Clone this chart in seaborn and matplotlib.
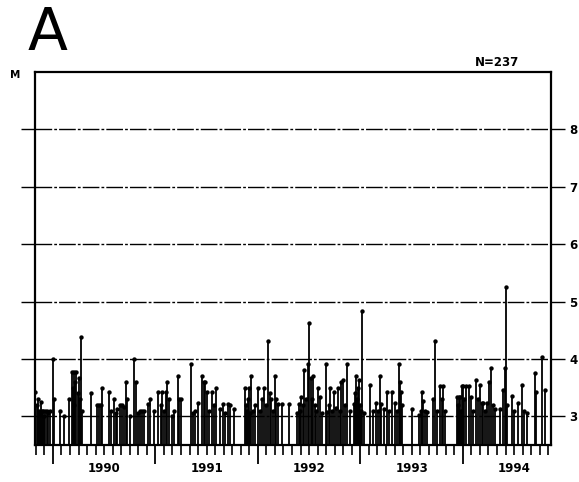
import numpy as np
import pandas as pd
import seaborn as sns
from matplotlib import pyplot as plt

# events: decimal year and magnitude
event_year = [
    1989.83, 1989.84, 1989.85, 1989.86, 1989.87, 1989.88, 1989.89, 1989.90,
    1989.91, 1989.92, 1989.94, 1989.95, 1989.97,
    1990.00, 1990.01, 1990.07, 1990.11, 1990.16, 1990.19, 1990.20, 1990.205,
    1990.21, 1990.22, 1990.23, 1990.24, 1990.25, 1990.26, 1990.27, 1990.28,
    1990.37, 1990.43, 1990.45, 1990.47, 1990.48, 1990.55, 1990.57, 1990.60,
    1990.62, 1990.63, 1990.65, 1990.67, 1990.69, 1990.71, 1990.72, 1990.75,
    1990.79, 1990.81, 1990.83, 1990.85, 1990.87, 1990.89, 1990.93, 1990.95,
    1990.99,
    1991.03, 1991.05, 1991.06, 1991.08, 1991.10, 1991.11, 1991.13, 1991.16,
    1991.18, 1991.22, 1991.23, 1991.25, 1991.35, 1991.37, 1991.39, 1991.42,
    1991.45, 1991.47, 1991.48, 1991.50, 1991.52, 1991.55, 1991.57, 1991.59,
    1991.63, 1991.66, 1991.68, 1991.71, 1991.73, 1991.77, 1991.87, 1991.88,
    1991.89, 1991.90, 1991.91, 1991.92, 1991.93, 1991.95, 1991.97,
    1992.00, 1992.02, 1992.04, 1992.06, 1992.08, 1992.10, 1992.12, 1992.13,
    1992.15, 1992.17, 1992.18, 1992.20, 1992.24, 1992.30, 1992.38, 1992.40,
    1992.41, 1992.42, 1992.44, 1992.45, 1992.47, 1992.49, 1992.50, 1992.52,
    1992.53, 1992.54, 1992.56, 1992.57, 1992.59, 1992.61, 1992.63, 1992.66,
    1992.67, 1992.69, 1992.70, 1992.72, 1992.74, 1992.76, 1992.78, 1992.80,
    1992.81, 1992.83, 1992.85, 1992.87, 1992.90, 1992.94, 1992.95, 1992.96,
    1992.97, 1992.98, 1992.99,
    1993.00, 1993.005, 1993.015, 1993.04, 1993.09, 1993.12, 1993.15, 1993.17,
    1993.19, 1993.20, 1993.23, 1993.26, 1993.28, 1993.31, 1993.34, 1993.36,
    1993.38, 1993.39, 1993.40, 1993.41, 1993.50, 1993.57, 1993.59, 1993.60,
    1993.61, 1993.63, 1993.65, 1993.71, 1993.73, 1993.75, 1993.78, 1993.80,
    1993.81, 1993.83, 1993.94, 1993.95, 1993.96, 1993.97, 1993.98, 1993.99,
    1994.00, 1994.01, 1994.03, 1994.06, 1994.08, 1994.10, 1994.13, 1994.15,
    1994.17, 1994.19, 1994.20, 1994.22, 1994.24, 1994.26, 1994.27, 1994.29,
    1994.31, 1994.36, 1994.39, 1994.41, 1994.42, 1994.43, 1994.48, 1994.50,
    1994.54, 1994.58, 1994.60, 1994.63, 1994.70, 1994.71, 1994.77, 1994.80,
]
event_mag = [
    3.42, 3.19, 3.30, 3.10, 3.05, 3.25, 3.10, 3.10,
    3.00, 3.10, 3.10, 3.05, 3.10,
    4.00, 3.30, 3.10, 3.00, 3.30, 3.78, 3.50, 3.78,
    3.20, 3.60, 3.78, 3.40, 3.66, 3.30, 4.39, 3.10,
    3.40, 3.19, 3.20, 3.19, 3.50, 3.42, 3.10, 3.30,
    3.05, 3.13, 3.19, 3.19, 3.16, 3.59, 3.30, 3.00,
    4.00, 3.59, 3.05, 3.10, 3.10, 3.10, 3.22, 3.30,
    3.10,
    3.42, 3.20, 3.42, 3.10, 3.42, 3.59, 3.30, 3.00,
    3.10, 3.71, 3.30, 3.30, 3.92, 3.05, 3.10, 3.24,
    3.71, 3.59, 3.59, 3.42, 3.10, 3.42, 3.20, 3.50,
    3.12, 3.22, 3.05, 3.22, 3.19, 3.12, 3.50, 3.20,
    3.10, 3.30, 3.50, 3.05, 3.71, 3.10, 3.20,
    3.50, 3.10, 3.30, 3.50, 3.20, 4.31, 3.40, 3.30,
    3.10, 3.71, 3.30, 3.22, 3.22, 3.22, 3.05, 3.22,
    3.10, 3.33, 3.20, 3.80, 3.30, 3.92, 4.62, 3.66,
    3.30, 3.71, 3.20, 3.10, 3.50, 3.33, 3.05, 3.92,
    3.07, 3.20, 3.50, 3.10, 3.42, 3.15, 3.50, 3.10,
    3.59, 3.63, 3.20, 3.92, 3.10, 3.22, 3.40, 3.71,
    3.30, 3.50, 3.63,
    3.20, 3.10, 4.83, 3.05, 3.54, 3.10, 3.24, 3.10,
    3.71, 3.22, 3.13, 3.42, 3.10, 3.42, 3.24, 3.10,
    3.92, 3.59, 3.42, 3.20, 3.13, 3.02, 3.10, 3.42,
    3.27, 3.10, 3.07, 3.30, 4.31, 3.10, 3.52, 3.30,
    3.52, 3.10, 3.33, 3.20, 3.33, 3.33, 3.10, 3.52,
    3.52, 3.30, 3.52, 3.52, 3.33, 3.10, 3.63, 3.30,
    3.54, 3.24, 3.24, 3.10, 3.24, 3.60, 3.84, 3.20,
    3.13, 3.13, 3.45, 3.84, 5.25, 3.20, 3.35, 3.10,
    3.24, 3.54, 3.10, 3.05, 3.75, 3.42, 4.03, 3.45,
]
mag_ticks = [3, 4, 5, 6, 7, 8]
year_labels = [1990, 1991, 1992, 1993, 1994]

df = pd.DataFrame({"year": event_year, "M": event_mag})

sns.set_style("ticks")
plt.rcParams['font.family'] = ['DejaVu Sans']
plt.rcParams['text.color'] = 'black'
plt.rcParams['ytick.color'] = 'black'
plt.rcParams['xtick.color'] = 'black'

fig = plt.figure(figsize=(5.79, 4.82), dpi=100)
ax = fig.add_axes([0.0604, 0.0768, 0.8912, 0.7738])

base = 2.5
ax.set_xlim(1989.825, 1994.86)
ax.set_ylim(base, 9.0)

# horizontal reference lines
for m in mag_ticks:
    ax.axhline(m, color="black", lw=1.0, dashes=(12, 1.5, 2, 1.5), zorder=1)

# stems and their end dots
ax.vlines(df["year"], base, df["M"], color="black", lw=1.3, zorder=2)
sns.scatterplot(data=df, x="year", y="M", ax=ax, color="black", s=10,
                edgecolor="black", linewidth=0, legend=False, zorder=3)

for side in ["top", "right", "left", "bottom"]:
    ax.spines[side].set_visible(True)
    ax.spines[side].set_linewidth(1.6)
    ax.spines[side].set_color("black")

# x axis: years as long ticks, months as short ones
ax.set_xticks(year_labels)
ax.set_xticklabels([])
ax.set_xticks(np.arange(1989 + 10 / 12, 1994 + 10.5 / 12, 1 / 12), minor=True)
ax.tick_params(axis="x", which="major", length=14, width=1.3, direction="out", color="black")
ax.tick_params(axis="x", which="minor", length=7, width=1.2, direction="out", color="black")
for yr in year_labels:
    ax.text(yr + 0.5, -0.062, str(yr), transform=ax.get_xaxis_transform(),
            ha="center", va="center", fontsize=8.5, fontweight="bold", color="black")

# y axis: tick stubs on both sides, numbers only on the right
ax.set_yticks(mag_ticks)
ax.tick_params(axis="y", left=True, right=True, labelleft=False, labelright=True,
               length=10, width=1.0, direction="out", labelsize=8.5, pad=3,
               color="black", labelcolor="black")
ax.set_yticklabels([str(m) for m in mag_ticks])
for lab in ax.get_yticklabels():
    lab.set_fontweight("bold")

ax.set_xlabel("")
ax.set_ylabel("")

fig.text(10 / 579, 1 - 75 / 482, "M", fontsize=7.5, fontweight="bold", ha="left", va="center", color="black")
fig.text(497 / 579, 1 - 63 / 482, "N=237", fontsize=8.5, fontweight="bold", ha="center", va="center", color="black")
fig.text(47 / 579, 1 - 34 / 482, "A", fontsize=42, fontweight="normal", ha="center", va="center", color="black")

fig.savefig("out.png", dpi=100)
